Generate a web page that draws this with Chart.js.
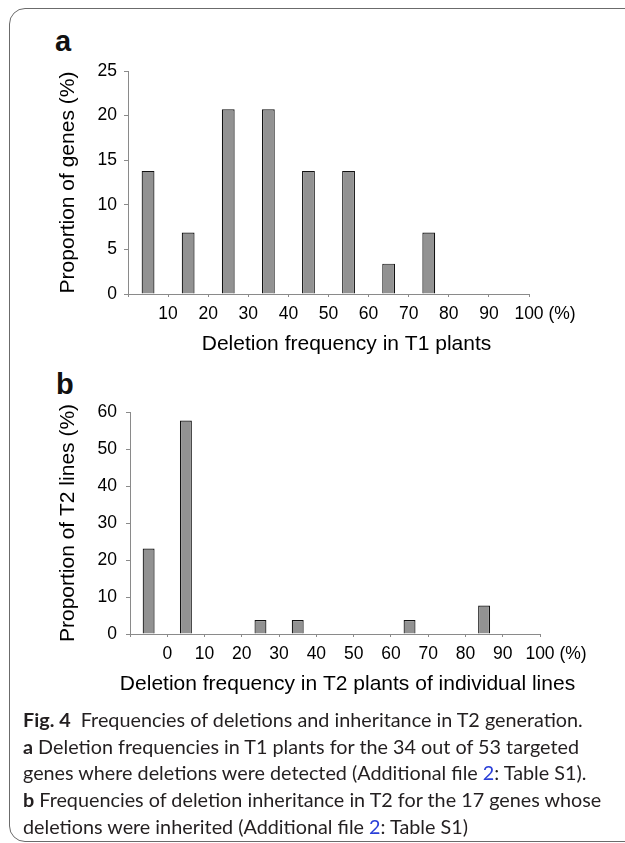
<!DOCTYPE html>
<html>
<head>
<meta charset="utf-8">
<title>Fig. 4</title>
<script src="https://cdn.jsdelivr.net/npm/chart.js@4.4.0/dist/chart.umd.min.js"></script>
<style>
  html, body { margin: 0; padding: 0; background: #fff; }
  body { width: 625px; height: 843px; position: relative; overflow: hidden; font-family: "Liberation Sans", Arial, sans-serif; }
  .frame { position: absolute; left: 9px; top: 8px; width: 720px; height: 832px; border: 1px solid #6b6b6b; border-radius: 16px; }
  .panel-tag { position: absolute; font: bold 29px/29px "Liberation Sans", Arial, sans-serif; color: #111; }
  canvas { position: absolute; left: 0; }
  #chartA { top: 0; }
  #chartB { top: 345px; }
  .caption { position: absolute; left: 23px; top: 706px; font-family: "Lato", "Open Sans", sans-serif; font-size: 19.8px; line-height: 26.7px; color: #231f20; white-space: nowrap; }
  .caption b { font-weight: 700; }
  .caption .ref { color: #2a3fd8; }
</style>
</head>
<body>
<div class="frame"></div>
<div class="panel-tag" style="left:55px; top:27px;">a</div>
<div class="panel-tag" style="left:56px; top:370px;">b</div>
<canvas id="chartA" width="625" height="360"></canvas>
<canvas id="chartB" width="625" height="360"></canvas>
<div class="caption">
  <b>Fig. 4</b>&nbsp; Frequencies of deletions and inheritance in T2 generation.<br>
  <b>a</b> Deletion frequencies in T1 plants for the 34 out of 53 targeted<br>
  genes where deletions were detected (Additional file <span class="ref">2</span>: Table S1).<br>
  <b>b</b> Frequencies of deletion inheritance in T2 for the 17 genes whose<br>
  deletions were inherited (Additional file <span class="ref">2</span>: Table S1)
</div>

<script>
// ---- data (bin centres in % and proportion in %) ----
const binsT1 = [5, 15, 25, 35, 45, 55, 65, 75, 85, 95];
const genesT1 = [13.8, 6.9, 20.7, 20.7, 13.8, 13.8, 3.4, 6.9, 0, 0];

const binsT2 = [-5, 5, 15, 25, 35, 45, 55, 65, 75, 85, 95];
const linesT2 = [23.1, 57.7, 0, 3.8, 3.8, 0, 0, 3.8, 0, 7.7, 0];

const yTicksT1 = { min: 0, max: 25, step: 5 };
const yTicksT2 = { min: 0, max: 60, step: 10 };

const FONT = "'Liberation Sans', Arial, sans-serif";
const AXIS_GRAY = '#8a8a8a';

Chart.defaults.font.family = FONT;
Chart.defaults.color = '#000';

// draws the " (%)" after the last x tick label, and the x axis title
const axisExtras = {
  id: 'axisExtras',
  afterDraw(chart, args, opts) {
    const ctx = chart.ctx;
    const xs = chart.scales.x;
    ctx.save();
    ctx.fillStyle = '#000';
    const items = xs.getLabelItems();
    const last = items[items.length - 1];
    if (last && opts.suffix) {
      ctx.font = last.font.string;
      ctx.textAlign = 'left';
      ctx.textBaseline = last.options.textBaseline;
      const [tx, ty] = last.options.translation;
      const w = ctx.measureText(String(last.label)).width;
      ctx.fillText(opts.suffix, tx + w / 2, ty + last.textOffset);
    }
    if (opts.title) {
      ctx.font = '21px ' + FONT;
      ctx.textAlign = 'center';
      ctx.textBaseline = 'alphabetic';
      ctx.fillText(opts.title, opts.titleX, opts.titleY);
    }
    ctx.restore();
  }
};

function makeChart(id, bins, values, cfg) {
  const points = bins.map((b, i) => ({ x: b, y: values[i] }));
  return new Chart(document.getElementById(id), {
    type: 'bar',
    data: {
      datasets: [{
        data: points,
        backgroundColor: '#929292',
        borderColor: '#111',
        borderWidth: c => (c.raw && c.raw.y > 0 ? 1.2 : 0),
        categoryPercentage: 1,
        barPercentage: 0.32
      }]
    },
    plugins: [axisExtras],
    options: {
      responsive: false,
      animation: false,
      layout: { padding: { top: cfg.top, right: cfg.right, bottom: 0, left: 0 } },
      plugins: {
        legend: { display: false },
        tooltip: { enabled: false },
        axisExtras: { suffix: ' (%)', title: cfg.xTitle, titleX: cfg.xTitleX, titleY: cfg.xTitleY }
      },
      scales: {
        x: {
          type: 'linear',
          min: cfg.xMin,
          max: 100,
          offset: false,
          afterFit: s => { s.height = cfg.xHeight; },
          afterBuildTicks: s => {
            s.ticks = [];
            for (let v = cfg.xMin; v <= 100; v += 10) s.ticks.push({ value: v });
          },
          ticks: {
            font: { size: 17.5 },
            padding: 7,
            maxRotation: 0,
            autoSkip: false,
            callback: v => (v === cfg.xMin ? '' : String(v))
          },
          grid: { offset: false, drawOnChartArea: false, drawTicks: true, tickLength: 3, color: AXIS_GRAY },
          border: { color: AXIS_GRAY, width: 1 }
        },
        y: {
          min: cfg.y.min,
          max: cfg.y.max,
          afterFit: s => { s.width = cfg.yWidth; },
          ticks: { stepSize: cfg.y.step, font: { size: 17.5 }, padding: cfg.yPad },
          grid: { drawOnChartArea: false, drawTicks: true, tickLength: 4, color: AXIS_GRAY },
          border: { color: AXIS_GRAY, width: 1 },
          title: {
            display: true,
            text: cfg.yTitle,
            font: { size: 21 },
            padding: { top: 56, bottom: 0 }
          }
        }
      }
    }
  });
}

makeChart('chartA', binsT1, genesT1, {
  top: 71, right: 96, xHeight: 66, yWidth: 128, yPad: 7, xMin: 0,
  y: yTicksT1,
  yTitle: 'Proportion of genes (%)',
  xTitle: 'Deletion frequency in T1 plants', xTitleX: 346.5, xTitleY: 350
});

makeChart('chartB', binsT2, linesT2, {
  top: 67, right: 85, xHeight: 71, yWidth: 130, yPad: 9, xMin: -10,
  y: yTicksT2,
  yTitle: 'Proportion of T2 lines (%)',
  xTitle: 'Deletion frequency in T2 plants of individual lines', xTitleX: 347.5, xTitleY: 345
});
</script>
</body>
</html>
